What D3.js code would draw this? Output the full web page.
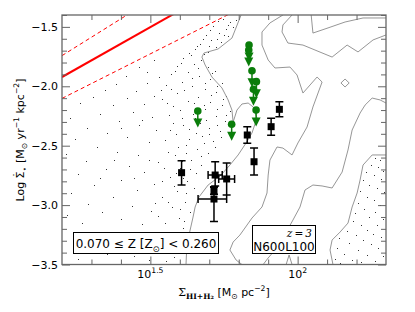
<!DOCTYPE html>
<html><head><meta charset="utf-8">
<script src="https://cdn.jsdelivr.net/npm/d3@7"></script>
<style>body{margin:0;background:#fff}svg{display:block;font-family:"DejaVu Sans",sans-serif}</style>
</head><body><svg id="c" width="415" height="312"></svg>
<script>
// ---- data (log10 Sigma_gas [Msun pc^-2], log10 SigmaSFR [Msun yr^-1 kpc^-2]) ----
const xDomain = [1.2, 2.3];
const yDomain = [-3.5, -1.4];
const xMajorTicks = [1.5, 2.0];
const xMajorLabels = ["1.5", "2"];
const xMinorTicks = [1.3, 1.4, 1.6, 1.7, 1.8, 1.9, 2.1, 2.2];
const yMajorTicks = [-3.5, -3.0, -2.5, -2.0, -1.5];
const yMinorTicks = [-3.4,-3.3,-3.2,-3.1,-2.9,-2.8,-2.7,-2.6,-2.4,-2.3,-2.2,-2.1,-1.9,-1.8,-1.7,-1.6,-1.4];

// Kennicutt relation and its exponent range (end points)
const ksX = [1.2, 2.3];
const ksY = [-1.922, -0.382];
const ksUpperY = [-1.742, -0.037];
const ksLowerY = [-2.102, -0.727];

// green upper limits
const limX = [1.661, 1.776, 1.835, 1.834, 1.845, 1.860, 1.850, 1.859];
const limY = [-2.208, -2.320, -1.653, -1.695, -1.869, -1.961, -2.025, -2.200];

// black points with errors
const ptX    = [1.606, 1.720, 1.759, 1.716, 1.716, 1.852, 1.829, 1.910, 1.938];
const ptY    = [-2.727, -2.747, -2.780, -2.879, -2.949, -2.635, -2.410, -2.340, -2.194];
const ptYlo  = [0.104, 0.092, 0.135, 0.030, 0.190, 0.112, 0.070, 0.072, 0.063];
const ptYhi  = [0.101, 0.112, 0.134, 0.030, 0.104, 0.115, 0.070, 0.072, 0.063];
const ptXlo  = [0, 0.024, 0.027, 0, 0.054, 0, 0, 0, 0];
const ptXhi  = [0, 0.024, 0.027, 0, 0.043, 0, 0, 0, 0];

// contour lines
const contourA = [[1.808,-1.4],[1.777,-1.594],[1.730,-1.686],[1.682,-1.720],[1.675,-1.754],[1.686,-1.821],[1.709,-1.922],[1.743,-2.014],[1.764,-2.115],[1.777,-2.200],[1.781,-2.301],[1.794,-2.200],[1.811,-2.149],[1.832,-2.141],[1.849,-2.174],[1.862,-2.267],[1.845,-2.393],[1.825,-2.477],[1.798,-2.578],[1.770,-2.663],[1.737,-2.755],[1.696,-2.831],[1.665,-2.932],[1.652,-3.016],[1.645,-3.100],[1.635,-3.210],[1.624,-3.336],[1.621,-3.5]];
const contourB = [[1.950,-1.4],[1.906,-1.467],[1.879,-1.543],[1.879,-1.653],[1.900,-1.779],[1.923,-1.846],[1.974,-1.838],[1.998,-1.905],[2.018,-2.057],[2.066,-1.922],[2.083,-1.964],[2.052,-2.174],[2.032,-2.343],[2.001,-2.477],[1.981,-2.578],[1.950,-2.520],[1.930,-2.511],[1.906,-2.621],[1.900,-2.747],[1.896,-2.898],[1.879,-3.016],[1.845,-3.109],[1.821,-3.193],[1.804,-3.252],[1.781,-3.311],[1.770,-3.378],[1.791,-3.462],[1.811,-3.5]];
const contourC = [[2.046,-1.4],[2.052,-1.552],[2.103,-1.509],[2.161,-1.459],[2.222,-1.425],[2.300,-1.425]];
const contourD = [[1.981,-1.4],[1.950,-1.484],[1.947,-1.543],[1.967,-1.636],[2.018,-1.653],[2.117,-1.754],[2.168,-1.653],[2.205,-1.711],[2.256,-1.610],[2.300,-1.568]];
const contourE = [[2.300,-2.141],[2.280,-2.115],[2.253,-2.099],[2.229,-2.158],[2.212,-2.225],[2.185,-2.368],[2.171,-2.536],[2.151,-2.722],[2.117,-2.856],[2.083,-2.839],[2.052,-2.831],[2.025,-2.873],[2.008,-3.016],[1.984,-3.126],[1.950,-3.277],[1.923,-3.378],[1.900,-3.445],[1.883,-3.5]];
const contourDiamond = [[2.147,-1.972],[2.161,-1.939],[2.175,-1.972],[2.161,-2.006],[2.147,-1.972]];
const contourF = [[2.300,-2.578],[2.253,-2.578],[2.222,-2.663],[2.212,-2.789],[2.202,-2.898],[2.185,-3.016],[2.171,-3.151],[2.144,-3.227],[2.117,-3.294],[2.110,-3.378],[2.120,-3.5]];
const contourPeak = [[1.961,-3.5],[1.971,-3.420],[1.981,-3.5]];

// scattered particle dots (left region, dense near the contour edge)
const dotsLeft = [[1.745,-1.43],[1.772,-1.46],[1.790,-1.44],[1.712,-1.49],[1.758,-1.52],[1.781,-1.50],[1.733,-1.55],[1.690,-1.57],[1.764,-1.58],[1.707,-1.61],[1.741,-1.63],[1.668,-1.64],[1.722,-1.67],[1.650,-1.69],[1.697,-1.71],[1.631,-1.72],[1.672,-1.78],[1.612,-1.76],[1.648,-1.81],[1.695,-1.84],[1.589,-1.83],[1.721,-1.87],[1.627,-1.88],[1.665,-1.91],[1.571,-1.90],[1.703,-1.94],[1.742,-1.97],[1.606,-1.96],[1.643,-2.00],[1.684,-2.02],[1.553,-1.99],[1.722,-2.05],[1.758,-2.08],[1.592,-2.06],[1.661,-2.09],[1.627,-2.12],[1.701,-2.13],[1.742,-2.16],[1.538,-2.11],[1.578,-2.17],[1.769,-2.21],[1.686,-2.19],[1.645,-2.23],[1.722,-2.25],[1.606,-2.27],[1.563,-2.24],[1.752,-2.29],[1.668,-2.31],[1.699,-2.35],[1.631,-2.36],[1.738,-2.38],[1.586,-2.40],[1.675,-2.42],[1.712,-2.46],[1.548,-2.45],[1.620,-2.49],[1.657,-2.53],[1.695,-2.56],[1.583,-2.58],[1.639,-2.62],[1.672,-2.66],[1.527,-2.64],[1.601,-2.69],[1.654,-2.73],[1.566,-2.76],[1.625,-2.80],[1.511,-2.82],[1.648,-2.86],[1.590,-2.88],[1.540,-2.93],[1.618,-2.97],[1.572,-3.02],[1.635,-3.06],[1.501,-3.05],[1.596,-3.11],[1.548,-3.15],[1.612,-3.19],
 [1.512,-1.78],[1.463,-1.84],[1.528,-1.92],[1.418,-1.91],[1.487,-1.97],[1.385,-1.98],[1.452,-2.04],[1.512,-2.08],[1.347,-2.03],[1.420,-2.10],[1.478,-2.15],[1.305,-2.09],[1.372,-2.16],[1.262,-2.14],[1.441,-2.22],[1.507,-2.26],[1.328,-2.23],[1.392,-2.29],[1.228,-2.27],[1.463,-2.33],[1.285,-2.35],[1.352,-2.39],[1.421,-2.43],[1.497,-2.47],[1.243,-2.44],[1.318,-2.51],[1.386,-2.55],[1.458,-2.58],[1.215,-2.57],[1.282,-2.63],[1.427,-2.67],[1.350,-2.70],[1.479,-2.72],[1.253,-2.74],[1.401,-2.79],[1.310,-2.83],[1.455,-2.87],[1.231,-2.90],[1.372,-2.93],[1.287,-2.99],[1.438,-3.01],[1.335,-3.06],[1.216,-3.08],[1.402,-3.12],[1.268,-3.15],[1.471,-3.16],[1.352,-3.41],[1.445,-3.43],[1.523,-3.40],[1.581,-3.44],[1.255,-3.45],[1.612,-3.38],[1.553,-3.47],[1.497,-3.46]];
// extra dots in the densest band
const dotsDense = [[1.728,-1.45],[1.762,-1.48],[1.703,-1.53],[1.749,-1.57],[1.678,-1.60],[1.725,-1.60],[1.659,-1.66],[1.700,-1.66],[1.638,-1.74],[1.681,-1.73],[1.603,-1.80],[1.661,-1.85],[1.708,-1.89],[1.584,-1.87],[1.640,-1.93],[1.686,-1.97],[1.727,-2.00],[1.570,-2.02],[1.615,-2.03],[1.705,-2.07],[1.745,-2.11],[1.648,-2.14],[1.556,-2.14],[1.682,-2.16],[1.725,-2.19],[1.601,-2.20],[1.756,-2.24],[1.650,-2.27],[1.688,-2.28],[1.577,-2.31],[1.727,-2.33],[1.612,-2.33],[1.656,-2.39],[1.700,-2.40],[1.565,-2.37],[1.740,-2.43],[1.632,-2.44],[1.682,-2.48],[1.594,-2.51],[1.718,-2.51],[1.560,-2.55],[1.622,-2.56],[1.672,-2.59],[1.609,-2.63],[1.545,-2.69],[1.636,-2.70],[1.588,-2.73],[1.610,-2.77],[1.540,-2.80],[1.580,-2.84],[1.622,-2.90],[1.561,-2.97],[1.600,-3.03],[1.525,-3.09],[1.615,-3.13],[1.490,-1.88],[1.535,-2.03],[1.470,-2.28],[1.520,-2.37],[1.400,-2.35],[1.495,-2.62],[1.445,-2.77],[1.515,-2.98],[1.375,-2.62],[1.330,-2.77]];
// lower-right dotted region
const dotsRight = [[2.262,-2.60],[2.281,-2.62],[2.248,-2.66],[2.273,-2.68],[2.291,-2.71],[2.232,-2.72],[2.259,-2.75],[2.221,-2.79],[2.284,-2.78],[2.243,-2.83],[2.268,-2.86],[2.212,-2.88],[2.292,-2.89],[2.236,-2.93],[2.258,-2.96],[2.204,-2.98],[2.281,-3.00],[2.225,-3.03],[2.196,-3.07],[2.262,-3.06],[2.243,-3.10],[2.289,-3.12],[2.187,-3.13],[2.214,-3.17],[2.271,-3.17],[2.235,-3.21],[2.168,-3.22],[2.198,-3.25],[2.256,-3.24],[2.284,-3.27],[2.142,-3.28],[2.221,-3.29],[2.176,-3.32],[2.248,-3.33],[2.133,-3.36],[2.273,-3.36],[2.205,-3.38],[2.157,-3.41],[2.236,-3.42],[2.289,-3.43],[2.128,-3.45],[2.184,-3.46],[2.262,-3.47],[2.215,-3.48],[2.145,-3.49]];

// ---- drawing ----
const L = 62, R = 386, T = 15, B = 264.5;
const svg = d3.select("#c");
const x = d3.scaleLinear().domain(xDomain).range([L, R]);
const y = d3.scaleLinear().domain(yDomain).range([B, T]);

svg.append("defs").append("clipPath").attr("id","clip")
  .append("rect").attr("x",L).attr("y",T).attr("width",R-L).attr("height",B-T);
const plot = svg.append("g").attr("clip-path","url(#clip)");

// dots
plot.selectAll("rect.dot").data(dotsLeft.concat(dotsDense, dotsRight)).join("rect").attr("class","dot")
  .attr("x",d=>Math.round(x(d[0]))).attr("y",d=>Math.round(y(d[1])))
  .attr("width",1).attr("height",1).attr("fill","#333");

// contours
const line = d3.line().x(d=>x(d[0])).y(d=>y(d[1]));
[contourA,contourB,contourC,contourD,contourE,contourDiamond,contourF,contourPeak].forEach(c=>{
  plot.append("path").attr("d",line(c)).attr("fill","none").attr("stroke","#8a8a8a").attr("stroke-width",0.9);
});

// Kennicutt lines
const ks = (ys)=>ksX.map((v,i)=>[v,ys[i]]);
plot.append("path").attr("d",line(ks(ksY))).attr("stroke","#ff0000").attr("stroke-width",2).attr("fill","none");
plot.append("path").attr("d",line(ks(ksUpperY))).attr("stroke","#ff0000").attr("stroke-width",1).attr("stroke-dasharray","4,3").attr("fill","none");
plot.append("path").attr("d",line(ks(ksLowerY))).attr("stroke","#ff0000").attr("stroke-width",1).attr("stroke-dasharray","4,3").attr("fill","none");

// black points with error bars
const ep = plot.append("g").attr("stroke","#000").attr("stroke-width",1.5);
ptX.forEach((xv,i)=>{
  const cx = x(xv), cy = y(ptY[i]);
  const y1 = y(ptY[i]+ptYhi[i]), y2 = y(ptY[i]-ptYlo[i]);
  ep.append("line").attr("x1",cx).attr("x2",cx).attr("y1",y1).attr("y2",y2);
  ep.append("line").attr("x1",cx-4).attr("x2",cx+4).attr("y1",y1).attr("y2",y1);
  ep.append("line").attr("x1",cx-4).attr("x2",cx+4).attr("y1",y2).attr("y2",y2);
  if (ptXlo[i]>0 || ptXhi[i]>0) {
    const x1 = x(xv-ptXlo[i]), x2 = x(xv+ptXhi[i]);
    ep.append("line").attr("x1",x1).attr("x2",x2).attr("y1",cy).attr("y2",cy);
    ep.append("line").attr("x1",x1).attr("x2",x1).attr("y1",cy-4).attr("y2",cy+4);
    ep.append("line").attr("x1",x2).attr("x2",x2).attr("y1",cy-4).attr("y2",cy+4);
  }
  plot.append("rect").attr("x",cx-3.5).attr("y",cy-3.5).attr("width",7).attr("height",7).attr("fill","#000");
});

// green upper limits
const gcol = "#0a7d0a";
limX.forEach((xv,i)=>{
  const cx = x(xv), cy = y(limY[i]);
  plot.append("line").attr("x1",cx).attr("x2",cx).attr("y1",cy).attr("y2",cy+10)
    .attr("stroke",gcol).attr("stroke-width",1.5);
  plot.append("path").attr("d",`M${cx-4.5},${cy+7.5}L${cx+4.5},${cy+7.5}L${cx},${cy+16.5}Z`).attr("fill",gcol);
  plot.append("circle").attr("cx",cx).attr("cy",cy).attr("r",3.8).attr("fill",gcol);
});

// rich text helper
function rich(sel, parts, size){
  let cur = 0;
  parts.forEach(p=>{
    const [t,k,fam,weight,dx] = p;
    const off = k==="sub" ? size*0.3 : k==="sup" ? -size*0.42 : k==="raise" ? -size*0.28 : 0;
    const ts = sel.append("tspan").text(t).attr("dy", off-cur)
      .attr("font-size", (k==="sub"||k==="sup") ? size*0.7 : size);
    if (fam) ts.attr("font-family", fam);
    if (weight) ts.attr("font-weight", weight);
    if (dx) ts.attr("dx", dx);
    cur = off;
  });
}

// legend boxes
svg.append("rect").attr("x",73.5).attr("y",232.5).attr("width",145).attr("height",21)
  .attr("fill","#fff").attr("stroke","#000").attr("stroke-width",1);
const t1 = svg.append("text").attr("x",146).attr("y",248).attr("text-anchor","middle").attr("fill","#000");
rich(t1, [["0.070 \u2264 Z [Z"],["\u2299","sub"],["] < 0.260"]], 12);

svg.append("rect").attr("x",252.5).attr("y",225.5).attr("width",63).attr("height",28)
  .attr("fill","#fff").attr("stroke","#000").attr("stroke-width",1);
svg.append("text").attr("x",312).attr("y",237).attr("text-anchor","end")
  .attr("font-family","'DejaVu Serif',serif").attr("font-style","italic").attr("font-size",10.5)
  .text("z\u2009=\u20093");
svg.append("text").attr("x",284).attr("y",250.5).attr("text-anchor","middle").attr("font-size",12).text("N600L100");

// axes (ticks inward on all sides)
const tc = "#666";
function styleAxis(g){ g.select(".domain").remove(); g.selectAll("line").attr("stroke",tc).attr("stroke-width",1); g.selectAll("text").remove(); }
svg.append("g").attr("transform",`translate(0,${B})`).call(d3.axisBottom(x).tickValues(xMajorTicks).tickSize(-8)).call(styleAxis);
svg.append("g").attr("transform",`translate(0,${B})`).call(d3.axisBottom(x).tickValues(xMinorTicks).tickSize(-5)).call(styleAxis);
svg.append("g").attr("transform",`translate(0,${T})`).call(d3.axisTop(x).tickValues(xMajorTicks).tickSize(-8)).call(styleAxis);
svg.append("g").attr("transform",`translate(0,${T})`).call(d3.axisTop(x).tickValues(xMinorTicks).tickSize(-5)).call(styleAxis);
svg.append("g").attr("transform",`translate(${R},0)`).call(d3.axisRight(y).tickValues(yMajorTicks).tickSize(-8)).call(styleAxis);
svg.append("g").attr("transform",`translate(${R},0)`).call(d3.axisRight(y).tickValues(yMinorTicks).tickSize(-5)).call(styleAxis);
svg.append("g").attr("transform",`translate(${L},0)`).call(d3.axisLeft(y).tickValues(yMinorTicks).tickSize(-5)).call(styleAxis);
const yAx = svg.append("g").attr("transform",`translate(${L},0)`)
  .call(d3.axisLeft(y).tickValues(yMajorTicks).tickSize(-8).tickPadding(4).tickFormat(d3.format(".1f")));
yAx.select(".domain").remove();
yAx.selectAll("line").attr("stroke",tc);
yAx.selectAll("text").attr("font-size",11).attr("font-family","'DejaVu Sans',sans-serif").attr("fill","#000");

// x tick labels
xMajorTicks.forEach((v,i)=>{
  const t = svg.append("text").attr("x",x(v)).attr("y",278).attr("text-anchor","middle").attr("fill","#000");
  rich(t, [["10"],[xMajorLabels[i],"sup"]], 11);
});

// frame
svg.append("rect").attr("x",L).attr("y",T).attr("width",R-L).attr("height",B-T)
  .attr("fill","none").attr("stroke",tc).attr("stroke-width",1.3);

// axis titles
const xt = svg.append("text").attr("x",224).attr("y",296).attr("text-anchor","middle").attr("fill","#000");
rich(xt, [["\u03a3",null,"'DejaVu Serif',serif"],["HI+H\u2082","sub","'DejaVu Serif',serif","bold"],[" [M"],["\u2299","sub"],[" pc"],["\u22122","sup"],["]"]], 11);

const yt = svg.append("text").attr("transform","translate(24,140) rotate(-90)").attr("text-anchor","middle").attr("fill","#000");
rich(yt, [["Log \u03a3"],["\u02d9","raise",null,null,-6.3],["\u22c6","sub",null,null,0.8],[" [M"],["\u2299","sub"],[" yr"],["\u22121","sup"],[" kpc"],["\u22122","sup"],["]"]], 11);
</script></body></html>
